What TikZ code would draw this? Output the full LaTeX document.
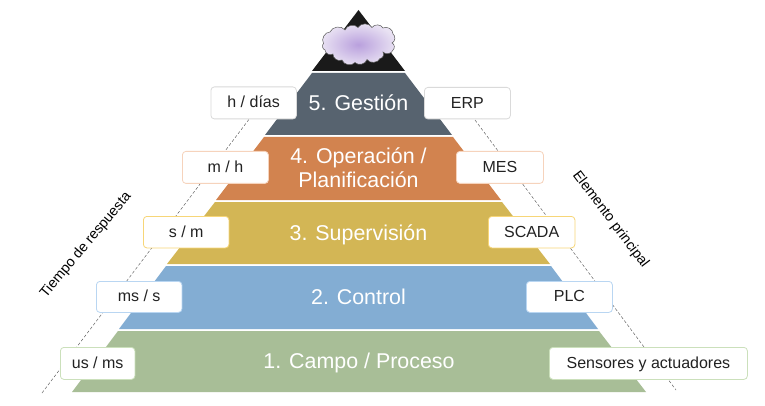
\documentclass[tikz,border=0pt]{standalone}
\usepackage{fontspec}
\setmainfont{Liberation Sans}
\usetikzlibrary{calc}
\definecolor{cblack}{HTML}{1A1A1A}
\definecolor{cgray}{HTML}{57636F}
\definecolor{corange}{HTML}{D2834F}
\definecolor{cyellow}{HTML}{D3B655}
\definecolor{cblue}{HTML}{83ADD3}
\definecolor{cgreen}{HTML}{A8BE97}
\definecolor{bgray}{HTML}{DADADA}
\definecolor{borange}{HTML}{F6D3BC}
\definecolor{byellow}{HTML}{F7D678}
\definecolor{bblue}{HTML}{B9D6F2}
\definecolor{bgreen}{HTML}{CBE0BB}
\definecolor{txt}{HTML}{222222}
\definecolor{cloudin}{HTML}{B9A0DD}
\definecolor{cloudout}{HTML}{E9E2F3}
\tikzset{
  x=1pt,y=-1pt,
  tag/.style={draw,fill=white,rounded corners=3.5pt,line width=0.8pt,text=txt,inner sep=0pt,
    text height=13pt,text depth=3pt,font=\fontsize{16}{18}\selectfont,anchor=north west},
  band/.style={text=white,font=\fontsize{21.4}{23.5}\selectfont,align=center,inner sep=0pt,anchor=base},
  side/.style={text=black,font=\fontsize{14.2}{16}\selectfont,inner sep=0pt},
  guide/.style={densely dashed,line width=0.45pt,draw=black!65},
  puff/.style={bend left=62}
}
\newcommand{\tagbox}[7]{\node[tag,draw=#6,minimum width=#4pt-#2pt,minimum height=#5pt-#3pt] (#1) at (#2,#3) {#7};}
\begin{document}
\begin{tikzpicture}
\useasboundingbox (0,0) rectangle (765,406);
\fill[white] (0,0) rectangle (765,406);
\coordinate (ldown) at (42,393);
\coordinate (lup) at (250,118);
\coordinate (rup) at (475,120);
\coordinate (rdown) at (676,390);
\draw[guide] (ldown) -- (lup);
\draw[guide] (rup) -- (rdown);
\fill[cblack] (358.5,10) -- (405,71) -- (312,71) -- cycle;
\fill[cgray] (312,73) -- (405,73) -- (452,135) -- (265,135) -- cycle;
\fill[corange] (264,137) -- (453,137) -- (501,200) -- (216,200) -- cycle;
\fill[cyellow] (215,202) -- (502,202) -- (550,264) -- (167,264) -- cycle;
\fill[cblue] (166,266) -- (551,266) -- (598,329) -- (119,329) -- cycle;
\fill[cgreen] (118,331) -- (599,331) -- (646,392) -- (72,392) -- cycle;
\shadedraw[inner color=cloudin,outer color=cloudout,draw=black!65,line width=0.5pt]
  (323.5,43.5) to[puff] (330,32) to[puff] (345,30) to[puff] (358,27.5) to[puff] (372,27.5)
  to[puff] (383,28) to[puff] (393,34) to[puff] (392,43) to[puff] (393,50) to[puff] (383,52)
  to[puff] (380,58.5) to[puff] (367,59.5) to[puff] (355,62.5) to[puff] (342,60) to[puff] (333,54)
  to[puff] (325,50) to[puff] cycle;
\node[band] (l5) at (358.5,111) {5. Gestión};
\node[band] (l4a) at (358.5,164) {4. Operación /};
\node[band] (l4b) at (358.5,187) {Planificación};
\node[band] (l3) at (358.5,240) {3. Supervisión};
\node[band] (l2) at (358.5,304) {2. Control};
\node[band] (l1) at (359,368) {1. Campo / Proceso};
\tagbox{t5}{210.5}{86.5}{296}{118.5}{bgray}{h / días}
\tagbox{t4}{182}{151}{268}{183}{borange}{m / h}
\tagbox{t3}{143}{216}{228.5}{247.5}{byellow}{s / m}
\tagbox{t2}{96}{281}{181.5}{312}{bblue}{ms / s}
\tagbox{t1}{60}{347}{134.5}{379}{bgreen}{us / ms}
\tagbox{e5}{424}{87}{510}{118.5}{bgray}{ERP}
\tagbox{e4}{456}{151}{543}{183}{borange}{MES}
\tagbox{e3}{488}{216}{574.5}{247.5}{byellow}{SCADA}
\tagbox{e2}{526}{281}{612}{312}{bblue}{PLC}
\tagbox{e1}{549}{347}{747}{379}{bgreen}{Sensores y actuadores}
\node[side,rotate=50] (ltitle) at (86,245) {Tiempo de respuesta};
\node[side,rotate=-53] (rtitle) at (610.5,219.5) {Elemento principal};
\end{tikzpicture}
\end{document}
